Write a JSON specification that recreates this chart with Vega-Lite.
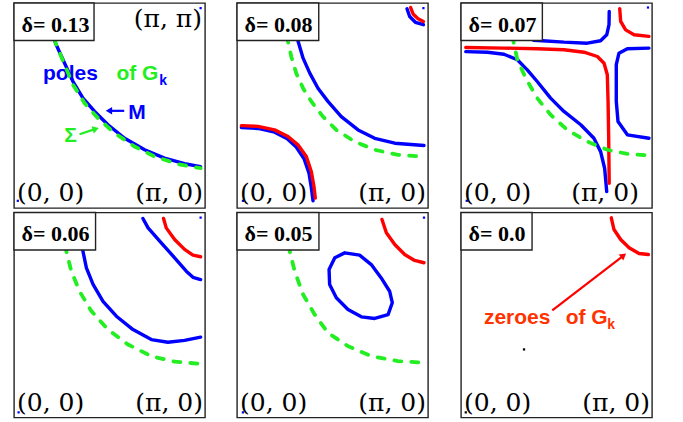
{
  "$schema": "https://vega.github.io/schema/vega-lite/v6.json",
  "background": "white",
  "padding": {"left": 12, "top": 1, "right": 0, "bottom": 0},
  "config": {"view": {"stroke": "#222222", "strokeWidth": 1.4}},
  "datasets": {"fs": [
    {"panel":1,"kind":"line","curve":"1b","series":"pole","i":0,"kx":0.208,"ky":0.83},
    {"panel":1,"kind":"line","curve":"1b","series":"pole","i":1,"kx":0.221,"ky":0.796},
    {"panel":1,"kind":"line","curve":"1b","series":"pole","i":2,"kx":0.265,"ky":0.706},
    {"panel":1,"kind":"line","curve":"1b","series":"pole","i":3,"kx":0.309,"ky":0.617},
    {"panel":1,"kind":"line","curve":"1b","series":"pole","i":4,"kx":0.361,"ky":0.536},
    {"panel":1,"kind":"line","curve":"1b","series":"pole","i":5,"kx":0.422,"ky":0.471},
    {"panel":1,"kind":"line","curve":"1b","series":"pole","i":6,"kx":0.492,"ky":0.406},
    {"panel":1,"kind":"line","curve":"1b","series":"pole","i":7,"kx":0.579,"ky":0.340},
    {"panel":1,"kind":"line","curve":"1b","series":"pole","i":8,"kx":0.684,"ky":0.284},
    {"panel":1,"kind":"line","curve":"1b","series":"pole","i":9,"kx":0.788,"ky":0.243},
    {"panel":1,"kind":"line","curve":"1b","series":"pole","i":10,"kx":0.893,"ky":0.216},
    {"panel":1,"kind":"line","curve":"1b","series":"pole","i":11,"kx":0.977,"ky":0.202},

    {"panel":1,"kind":"line","curve":"1g","series":"sigma","i":0,"kx":0.212,"ky":0.83},
    {"panel":1,"kind":"line","curve":"1g","series":"sigma","i":1,"kx":0.218,"ky":0.804},
    {"panel":1,"kind":"line","curve":"1g","series":"sigma","i":2,"kx":0.265,"ky":0.699},
    {"panel":1,"kind":"line","curve":"1g","series":"sigma","i":3,"kx":0.309,"ky":0.601},
    {"panel":1,"kind":"line","curve":"1g","series":"sigma","i":4,"kx":0.370,"ky":0.511},
    {"panel":1,"kind":"line","curve":"1g","series":"sigma","i":5,"kx":0.440,"ky":0.438},
    {"panel":1,"kind":"line","curve":"1g","series":"sigma","i":6,"kx":0.527,"ky":0.365},
    {"panel":1,"kind":"line","curve":"1g","series":"sigma","i":7,"kx":0.631,"ky":0.300},
    {"panel":1,"kind":"line","curve":"1g","series":"sigma","i":8,"kx":0.736,"ky":0.251},
    {"panel":1,"kind":"line","curve":"1g","series":"sigma","i":9,"kx":0.859,"ky":0.214},
    {"panel":1,"kind":"line","curve":"1g","series":"sigma","i":10,"kx":0.977,"ky":0.194},

    {"panel":2,"kind":"line","curve":"2b1","series":"pole","i":0,"kx":0.890,"ky":0.972},
    {"panel":2,"kind":"line","curve":"2b1","series":"pole","i":1,"kx":0.904,"ky":0.934},
    {"panel":2,"kind":"line","curve":"2b1","series":"pole","i":2,"kx":0.934,"ky":0.906},
    {"panel":2,"kind":"line","curve":"2b1","series":"pole","i":3,"kx":0.976,"ky":0.894},
    {"panel":2,"kind":"line","curve":"2r1","series":"zero","i":0,"kx":0.909,"ky":0.978},
    {"panel":2,"kind":"line","curve":"2r1","series":"zero","i":1,"kx":0.923,"ky":0.945},
    {"panel":2,"kind":"line","curve":"2r1","series":"zero","i":2,"kx":0.948,"ky":0.923},
    {"panel":2,"kind":"line","curve":"2r1","series":"zero","i":3,"kx":0.976,"ky":0.910},

    {"panel":2,"kind":"line","curve":"2b2","series":"pole","i":0,"kx":0.310,"ky":0.84},
    {"panel":2,"kind":"line","curve":"2b2","series":"pole","i":1,"kx":0.319,"ky":0.816},
    {"panel":2,"kind":"line","curve":"2b2","series":"pole","i":2,"kx":0.346,"ky":0.731},
    {"panel":2,"kind":"line","curve":"2b2","series":"pole","i":3,"kx":0.381,"ky":0.658},
    {"panel":2,"kind":"line","curve":"2b2","series":"pole","i":4,"kx":0.424,"ky":0.584},
    {"panel":2,"kind":"line","curve":"2b2","series":"pole","i":5,"kx":0.476,"ky":0.520},
    {"panel":2,"kind":"line","curve":"2b2","series":"pole","i":6,"kx":0.546,"ky":0.446},
    {"panel":2,"kind":"line","curve":"2b2","series":"pole","i":7,"kx":0.634,"ky":0.381},
    {"panel":2,"kind":"line","curve":"2b2","series":"pole","i":8,"kx":0.721,"ky":0.340},
    {"panel":2,"kind":"line","curve":"2b2","series":"pole","i":9,"kx":0.826,"ky":0.316},
    {"panel":2,"kind":"line","curve":"2b2","series":"pole","i":10,"kx":0.979,"ky":0.305},

    {"panel":2,"kind":"line","curve":"2g","series":"sigma","i":0,"kx":0.262,"ky":0.84},
    {"panel":2,"kind":"line","curve":"2g","series":"sigma","i":1,"kx":0.267,"ky":0.812},
    {"panel":2,"kind":"line","curve":"2g","series":"sigma","i":2,"kx":0.284,"ky":0.739},
    {"panel":2,"kind":"line","curve":"2g","series":"sigma","i":3,"kx":0.310,"ky":0.658},
    {"panel":2,"kind":"line","curve":"2g","series":"sigma","i":4,"kx":0.346,"ky":0.584},
    {"panel":2,"kind":"line","curve":"2g","series":"sigma","i":5,"kx":0.389,"ky":0.520},
    {"panel":2,"kind":"line","curve":"2g","series":"sigma","i":6,"kx":0.450,"ky":0.446},
    {"panel":2,"kind":"line","curve":"2g","series":"sigma","i":7,"kx":0.520,"ky":0.381},
    {"panel":2,"kind":"line","curve":"2g","series":"sigma","i":8,"kx":0.616,"ky":0.324},
    {"panel":2,"kind":"line","curve":"2g","series":"sigma","i":9,"kx":0.721,"ky":0.284},
    {"panel":2,"kind":"line","curve":"2g","series":"sigma","i":10,"kx":0.843,"ky":0.259},
    {"panel":2,"kind":"line","curve":"2g","series":"sigma","i":11,"kx":0.979,"ky":0.251},

    {"panel":2,"kind":"line","curve":"2b3","series":"pole","i":0,"kx":0.023,"ky":0.393},
    {"panel":2,"kind":"line","curve":"2b3","series":"pole","i":1,"kx":0.110,"ky":0.388},
    {"panel":2,"kind":"line","curve":"2b3","series":"pole","i":2,"kx":0.197,"ky":0.370},
    {"panel":2,"kind":"line","curve":"2b3","series":"pole","i":3,"kx":0.263,"ky":0.338},
    {"panel":2,"kind":"line","curve":"2b3","series":"pole","i":4,"kx":0.310,"ky":0.297},
    {"panel":2,"kind":"line","curve":"2b3","series":"pole","i":5,"kx":0.351,"ky":0.240},
    {"panel":2,"kind":"line","curve":"2b3","series":"pole","i":6,"kx":0.377,"ky":0.170},
    {"panel":2,"kind":"line","curve":"2b3","series":"pole","i":7,"kx":0.389,"ky":0.100},
    {"panel":2,"kind":"line","curve":"2b3","series":"pole","i":8,"kx":0.398,"ky":0.035},
    {"panel":2,"kind":"line","curve":"2r2","series":"zero","i":0,"kx":0.023,"ky":0.402},
    {"panel":2,"kind":"line","curve":"2r2","series":"zero","i":1,"kx":0.110,"ky":0.398},
    {"panel":2,"kind":"line","curve":"2r2","series":"zero","i":2,"kx":0.197,"ky":0.381},
    {"panel":2,"kind":"line","curve":"2r2","series":"zero","i":3,"kx":0.267,"ky":0.349},
    {"panel":2,"kind":"line","curve":"2r2","series":"zero","i":4,"kx":0.319,"ky":0.308},
    {"panel":2,"kind":"line","curve":"2r2","series":"zero","i":5,"kx":0.363,"ky":0.251},
    {"panel":2,"kind":"line","curve":"2r2","series":"zero","i":6,"kx":0.389,"ky":0.178},
    {"panel":2,"kind":"line","curve":"2r2","series":"zero","i":7,"kx":0.403,"ky":0.105},
    {"panel":2,"kind":"line","curve":"2r2","series":"zero","i":8,"kx":0.410,"ky":0.048},

    {"panel":3,"kind":"line","curve":"3b1","series":"pole","i":0,"kx":0.025,"ky":0.763},
    {"panel":3,"kind":"line","curve":"3b1","series":"pole","i":1,"kx":0.138,"ky":0.760},
    {"panel":3,"kind":"line","curve":"3b1","series":"pole","i":2,"kx":0.225,"ky":0.750},
    {"panel":3,"kind":"line","curve":"3b1","series":"pole","i":3,"kx":0.295,"ky":0.723},
    {"panel":3,"kind":"line","curve":"3b1","series":"pole","i":4,"kx":0.347,"ky":0.674},
    {"panel":3,"kind":"line","curve":"3b1","series":"pole","i":5,"kx":0.399,"ky":0.617},
    {"panel":3,"kind":"line","curve":"3b1","series":"pole","i":6,"kx":0.469,"ky":0.536},
    {"panel":3,"kind":"line","curve":"3b1","series":"pole","i":7,"kx":0.539,"ky":0.471},
    {"panel":3,"kind":"line","curve":"3b1","series":"pole","i":8,"kx":0.627,"ky":0.406},
    {"panel":3,"kind":"line","curve":"3b1","series":"pole","i":9,"kx":0.696,"ky":0.340},
    {"panel":3,"kind":"line","curve":"3b1","series":"pole","i":10,"kx":0.731,"ky":0.275},
    {"panel":3,"kind":"line","curve":"3b1","series":"pole","i":11,"kx":0.752,"ky":0.194},
    {"panel":3,"kind":"line","curve":"3b1","series":"pole","i":12,"kx":0.763,"ky":0.080},

    {"panel":3,"kind":"line","curve":"3b2","series":"pole","i":0,"kx":0.380,"ky":0.818},
    {"panel":3,"kind":"line","curve":"3b2","series":"pole","i":1,"kx":0.426,"ky":0.816},
    {"panel":3,"kind":"line","curve":"3b2","series":"pole","i":2,"kx":0.539,"ky":0.809},
    {"panel":3,"kind":"line","curve":"3b2","series":"pole","i":3,"kx":0.661,"ky":0.804},
    {"panel":3,"kind":"line","curve":"3b2","series":"pole","i":4,"kx":0.731,"ky":0.816},
    {"panel":3,"kind":"line","curve":"3b2","series":"pole","i":5,"kx":0.763,"ky":0.845},
    {"panel":3,"kind":"line","curve":"3b2","series":"pole","i":6,"kx":0.775,"ky":0.894},
    {"panel":3,"kind":"line","curve":"3b2","series":"pole","i":7,"kx":0.776,"ky":0.959},

    {"panel":3,"kind":"line","curve":"3b3","series":"pole","i":0,"kx":0.984,"ky":0.780},
    {"panel":3,"kind":"line","curve":"3b3","series":"pole","i":1,"kx":0.871,"ky":0.777},
    {"panel":3,"kind":"line","curve":"3b3","series":"pole","i":2,"kx":0.827,"ky":0.755},
    {"panel":3,"kind":"line","curve":"3b3","series":"pole","i":3,"kx":0.813,"ky":0.699},
    {"panel":3,"kind":"line","curve":"3b3","series":"pole","i":4,"kx":0.813,"ky":0.520},
    {"panel":3,"kind":"line","curve":"3b3","series":"pole","i":5,"kx":0.822,"ky":0.422},
    {"panel":3,"kind":"line","curve":"3b3","series":"pole","i":6,"kx":0.871,"ky":0.357},
    {"panel":3,"kind":"line","curve":"3b3","series":"pole","i":7,"kx":0.984,"ky":0.340},

    {"panel":3,"kind":"line","curve":"3r1","series":"zero","i":0,"kx":0.025,"ky":0.783},
    {"panel":3,"kind":"line","curve":"3r1","series":"zero","i":1,"kx":0.225,"ky":0.780},
    {"panel":3,"kind":"line","curve":"3r1","series":"zero","i":2,"kx":0.399,"ky":0.777},
    {"panel":3,"kind":"line","curve":"3r1","series":"zero","i":3,"kx":0.539,"ky":0.772},
    {"panel":3,"kind":"line","curve":"3r1","series":"zero","i":4,"kx":0.644,"ky":0.760},
    {"panel":3,"kind":"line","curve":"3r1","series":"zero","i":5,"kx":0.714,"ky":0.739},
    {"panel":3,"kind":"line","curve":"3r1","series":"zero","i":6,"kx":0.749,"ky":0.706},
    {"panel":3,"kind":"line","curve":"3r1","series":"zero","i":7,"kx":0.766,"ky":0.650},
    {"panel":3,"kind":"line","curve":"3r1","series":"zero","i":8,"kx":0.770,"ky":0.520},
    {"panel":3,"kind":"line","curve":"3r1","series":"zero","i":9,"kx":0.773,"ky":0.357},
    {"panel":3,"kind":"line","curve":"3r1","series":"zero","i":10,"kx":0.776,"ky":0.121},

    {"panel":3,"kind":"line","curve":"3r2","series":"zero","i":0,"kx":0.831,"ky":0.972},
    {"panel":3,"kind":"line","curve":"3r2","series":"zero","i":1,"kx":0.836,"ky":0.910},
    {"panel":3,"kind":"line","curve":"3r2","series":"zero","i":2,"kx":0.862,"ky":0.869},
    {"panel":3,"kind":"line","curve":"3r2","series":"zero","i":3,"kx":0.906,"ky":0.845},
    {"panel":3,"kind":"line","curve":"3r2","series":"zero","i":4,"kx":0.984,"ky":0.837},

    {"panel":3,"kind":"line","curve":"3g","series":"sigma","i":0,"kx":0.270,"ky":0.84},
    {"panel":3,"kind":"line","curve":"3g","series":"sigma","i":1,"kx":0.274,"ky":0.816},
    {"panel":3,"kind":"line","curve":"3g","series":"sigma","i":2,"kx":0.295,"ky":0.723},
    {"panel":3,"kind":"line","curve":"3g","series":"sigma","i":3,"kx":0.339,"ky":0.633},
    {"panel":3,"kind":"line","curve":"3g","series":"sigma","i":4,"kx":0.399,"ky":0.536},
    {"panel":3,"kind":"line","curve":"3g","series":"sigma","i":5,"kx":0.469,"ky":0.455},
    {"panel":3,"kind":"line","curve":"3g","series":"sigma","i":6,"kx":0.556,"ky":0.381},
    {"panel":3,"kind":"line","curve":"3g","series":"sigma","i":7,"kx":0.661,"ky":0.324},
    {"panel":3,"kind":"line","curve":"3g","series":"sigma","i":8,"kx":0.766,"ky":0.284},
    {"panel":3,"kind":"line","curve":"3g","series":"sigma","i":9,"kx":0.871,"ky":0.264},
    {"panel":3,"kind":"line","curve":"3g","series":"sigma","i":10,"kx":0.984,"ky":0.256},

    {"panel":4,"kind":"line","curve":"4b1","series":"pole","i":0,"kx":0.355,"ky":0.84},
    {"panel":4,"kind":"line","curve":"4b1","series":"pole","i":1,"kx":0.361,"ky":0.811},
    {"panel":4,"kind":"line","curve":"4b1","series":"pole","i":2,"kx":0.379,"ky":0.730},
    {"panel":4,"kind":"line","curve":"4b1","series":"pole","i":3,"kx":0.414,"ky":0.649},
    {"panel":4,"kind":"line","curve":"4b1","series":"pole","i":4,"kx":0.466,"ky":0.567},
    {"panel":4,"kind":"line","curve":"4b1","series":"pole","i":5,"kx":0.536,"ky":0.494},
    {"panel":4,"kind":"line","curve":"4b1","series":"pole","i":6,"kx":0.623,"ky":0.429},
    {"panel":4,"kind":"line","curve":"4b1","series":"pole","i":7,"kx":0.719,"ky":0.380},
    {"panel":4,"kind":"line","curve":"4b1","series":"pole","i":8,"kx":0.806,"ky":0.367},
    {"panel":4,"kind":"line","curve":"4b1","series":"pole","i":9,"kx":0.893,"ky":0.376},
    {"panel":4,"kind":"line","curve":"4b1","series":"pole","i":10,"kx":0.977,"ky":0.392},

    {"panel":4,"kind":"line","curve":"4b2","series":"pole","i":0,"kx":0.675,"ky":0.971},
    {"panel":4,"kind":"line","curve":"4b2","series":"pole","i":1,"kx":0.702,"ky":0.925},
    {"panel":4,"kind":"line","curve":"4b2","series":"pole","i":2,"kx":0.771,"ky":0.852},
    {"panel":4,"kind":"line","curve":"4b2","series":"pole","i":3,"kx":0.841,"ky":0.779},
    {"panel":4,"kind":"line","curve":"4b2","series":"pole","i":4,"kx":0.902,"ky":0.714},
    {"panel":4,"kind":"line","curve":"4b2","series":"pole","i":5,"kx":0.937,"ky":0.684},
    {"panel":4,"kind":"line","curve":"4b2","series":"pole","i":6,"kx":0.977,"ky":0.673},

    {"panel":4,"kind":"line","curve":"4r","series":"zero","i":0,"kx":0.783,"ky":0.971},
    {"panel":4,"kind":"line","curve":"4r","series":"zero","i":1,"kx":0.797,"ky":0.925},
    {"panel":4,"kind":"line","curve":"4r","series":"zero","i":2,"kx":0.841,"ky":0.868},
    {"panel":4,"kind":"line","curve":"4r","series":"zero","i":3,"kx":0.893,"ky":0.820},
    {"panel":4,"kind":"line","curve":"4r","series":"zero","i":4,"kx":0.937,"ky":0.792},
    {"panel":4,"kind":"line","curve":"4r","series":"zero","i":5,"kx":0.977,"ky":0.784},

    {"panel":4,"kind":"line","curve":"4g","series":"sigma","i":0,"kx":0.270,"ky":0.84},
    {"panel":4,"kind":"line","curve":"4g","series":"sigma","i":1,"kx":0.274,"ky":0.811},
    {"panel":4,"kind":"line","curve":"4g","series":"sigma","i":2,"kx":0.300,"ky":0.714},
    {"panel":4,"kind":"line","curve":"4g","series":"sigma","i":3,"kx":0.343,"ky":0.616},
    {"panel":4,"kind":"line","curve":"4g","series":"sigma","i":4,"kx":0.405,"ky":0.519},
    {"panel":4,"kind":"line","curve":"4g","series":"sigma","i":5,"kx":0.492,"ky":0.429},
    {"panel":4,"kind":"line","curve":"4g","series":"sigma","i":6,"kx":0.597,"ky":0.356},
    {"panel":4,"kind":"line","curve":"4g","series":"sigma","i":7,"kx":0.719,"ky":0.299},
    {"panel":4,"kind":"line","curve":"4g","series":"sigma","i":8,"kx":0.841,"ky":0.272},
    {"panel":4,"kind":"line","curve":"4g","series":"sigma","i":9,"kx":0.977,"ky":0.262},

    {"panel":5,"kind":"line","curve":"5b","series":"pole","i":0,"kx":0.564,"ky":0.803},
    {"panel":5,"kind":"line","curve":"5b","series":"pole","i":1,"kx":0.512,"ky":0.779},
    {"panel":5,"kind":"line","curve":"5b","series":"pole","i":2,"kx":0.482,"ky":0.722},
    {"panel":5,"kind":"line","curve":"5b","series":"pole","i":3,"kx":0.485,"ky":0.649},
    {"panel":5,"kind":"line","curve":"5b","series":"pole","i":4,"kx":0.520,"ky":0.584},
    {"panel":5,"kind":"line","curve":"5b","series":"pole","i":5,"kx":0.581,"ky":0.527},
    {"panel":5,"kind":"line","curve":"5b","series":"pole","i":6,"kx":0.651,"ky":0.491},
    {"panel":5,"kind":"line","curve":"5b","series":"pole","i":7,"kx":0.721,"ky":0.483},
    {"panel":5,"kind":"line","curve":"5b","series":"pole","i":8,"kx":0.791,"ky":0.502},
    {"panel":5,"kind":"line","curve":"5b","series":"pole","i":9,"kx":0.813,"ky":0.560},
    {"panel":5,"kind":"line","curve":"5b","series":"pole","i":10,"kx":0.799,"ky":0.616},
    {"panel":5,"kind":"line","curve":"5b","series":"pole","i":11,"kx":0.755,"ky":0.681},
    {"panel":5,"kind":"line","curve":"5b","series":"pole","i":12,"kx":0.703,"ky":0.746},
    {"panel":5,"kind":"line","curve":"5b","series":"pole","i":13,"kx":0.642,"ky":0.792},
    {"panel":5,"kind":"line","curve":"5b","series":"pole","i":14,"kx":0.564,"ky":0.803},

    {"panel":5,"kind":"line","curve":"5r","series":"zero","i":0,"kx":0.759,"ky":0.966},
    {"panel":5,"kind":"line","curve":"5r","series":"zero","i":1,"kx":0.782,"ky":0.901},
    {"panel":5,"kind":"line","curve":"5r","series":"zero","i":2,"kx":0.826,"ky":0.844},
    {"panel":5,"kind":"line","curve":"5r","series":"zero","i":3,"kx":0.878,"ky":0.795},
    {"panel":5,"kind":"line","curve":"5r","series":"zero","i":4,"kx":0.930,"ky":0.766},
    {"panel":5,"kind":"line","curve":"5r","series":"zero","i":5,"kx":0.979,"ky":0.755},

    {"panel":5,"kind":"line","curve":"5g","series":"sigma","i":0,"kx":0.272,"ky":0.84},
    {"panel":5,"kind":"line","curve":"5g","series":"sigma","i":1,"kx":0.276,"ky":0.811},
    {"panel":5,"kind":"line","curve":"5g","series":"sigma","i":2,"kx":0.302,"ky":0.714},
    {"panel":5,"kind":"line","curve":"5g","series":"sigma","i":3,"kx":0.346,"ky":0.600},
    {"panel":5,"kind":"line","curve":"5g","series":"sigma","i":4,"kx":0.407,"ky":0.502},
    {"panel":5,"kind":"line","curve":"5g","series":"sigma","i":5,"kx":0.476,"ky":0.413},
    {"panel":5,"kind":"line","curve":"5g","series":"sigma","i":6,"kx":0.581,"ky":0.348},
    {"panel":5,"kind":"line","curve":"5g","series":"sigma","i":7,"kx":0.703,"ky":0.299},
    {"panel":5,"kind":"line","curve":"5g","series":"sigma","i":8,"kx":0.843,"ky":0.275},
    {"panel":5,"kind":"line","curve":"5g","series":"sigma","i":9,"kx":0.979,"ky":0.267},

    {"panel":6,"kind":"line","curve":"6r","series":"zero","i":0,"kx":0.787,"ky":0.974},
    {"panel":6,"kind":"line","curve":"6r","series":"zero","i":1,"kx":0.801,"ky":0.917},
    {"panel":6,"kind":"line","curve":"6r","series":"zero","i":2,"kx":0.836,"ky":0.868},
    {"panel":6,"kind":"line","curve":"6r","series":"zero","i":3,"kx":0.880,"ky":0.828},
    {"panel":6,"kind":"line","curve":"6r","series":"zero","i":4,"kx":0.932,"ky":0.800},
    {"panel":6,"kind":"line","curve":"6r","series":"zero","i":5,"kx":0.981,"ky":0.795},

    {"panel":1,"kind":"box","text":"δ= 0.13","kx":0,"ky":1,"kx2":0.419,"ky2":0.817},
    {"panel":2,"kind":"box","text":"δ= 0.08","kx":0,"ky":1,"kx2":0.428,"ky2":0.817},
    {"panel":3,"kind":"box","text":"δ= 0.07","kx":0,"ky":1,"kx2":0.426,"ky2":0.817},
    {"panel":4,"kind":"box","text":"δ= 0.06","kx":0,"ky":1,"kx2":0.427,"ky2":0.817},
    {"panel":5,"kind":"box","text":"δ= 0.05","kx":0,"ky":1,"kx2":0.429,"ky2":0.817},
    {"panel":6,"kind":"box","text":"δ= 0.0","kx":0,"ky":1,"kx2":0.372,"ky2":0.817},

    {"panel":1,"kind":"corner","pos":"bl","text":"(0, 0)","kx":0,"ky":0},
    {"panel":1,"kind":"corner","pos":"br","text":"(π, 0)","kx":1,"ky":0},
    {"panel":1,"kind":"corner","pos":"tr","text":"(π, π)","kx":1,"ky":1},
    {"panel":2,"kind":"corner","pos":"bl","text":"(0, 0)","kx":0,"ky":0},
    {"panel":2,"kind":"corner","pos":"br","text":"(π, 0)","kx":1,"ky":0},
    {"panel":3,"kind":"corner","pos":"bl","text":"(0, 0)","kx":0,"ky":0},
    {"panel":3,"kind":"corner","pos":"br","text":"(π, 0)","kx":0.942,"ky":0},
    {"panel":4,"kind":"corner","pos":"bl","text":"(0, 0)","kx":0,"ky":0},
    {"panel":4,"kind":"corner","pos":"br","text":"(π, 0)","kx":1,"ky":0},
    {"panel":5,"kind":"corner","pos":"bl","text":"(0, 0)","kx":0,"ky":0},
    {"panel":5,"kind":"corner","pos":"br","text":"(π, 0)","kx":1,"ky":0},
    {"panel":6,"kind":"corner","pos":"bl","text":"(0, 0)","kx":0,"ky":0},
    {"panel":6,"kind":"corner","pos":"br","text":"(π, 0)","kx":1,"ky":0},

    {"panel":1,"kind":"note","series":"pole","text":"poles","kx":0.152,"ky":0.625},
    {"panel":1,"kind":"note","series":"sigma","text":"of G","kx":0.536,"ky":0.625},
    {"panel":1,"kind":"sub","series":"pole","text":"k","kx":0.761,"ky":0.601},
    {"panel":1,"kind":"note","series":"pole","text":"M","kx":0.598,"ky":0.432},
    {"panel":1,"kind":"note","series":"sigma","text":"Σ","kx":0.263,"ky":0.324},
    {"panel":6,"kind":"note","series":"zeroText","text":"zeroes","kx":0.120,"ky":0.457},
    {"panel":6,"kind":"note","series":"zeroText","text":"of G","kx":0.548,"ky":0.457},
    {"panel":6,"kind":"sub","series":"zeroText","text":"k","kx":0.766,"ky":0.434},

    {"panel":1,"kind":"arrow","id":"m","series":"pole","kx":0.577,"ky":0.474,"kx2":0.497,"ky2":0.474},
    {"panel":1,"kind":"arrow","id":"s","series":"sigma","kx":0.343,"ky":0.360,"kx2":0.428,"ky2":0.386},
    {"panel":6,"kind":"arrow","id":"z","series":"zero","kx":0.478,"ky":0.522,"kx2":0.851,"ky2":0.790},

    {"panel":1,"kind":"dot","series":"pole","kx":0.977,"ky":0.975},
    {"panel":1,"kind":"dot","series":"pole","kx":0.020,"ky":0.035},
    {"panel":2,"kind":"dot","series":"pole","kx":0.976,"ky":0.975},
    {"panel":2,"kind":"dot","series":"pole","kx":0.031,"ky":0.035},
    {"panel":3,"kind":"dot","series":"pole","kx":0.979,"ky":0.978},
    {"panel":3,"kind":"dot","series":"pole","kx":0.030,"ky":0.035},
    {"panel":4,"kind":"dot","series":"pole","kx":0.977,"ky":0.975},
    {"panel":4,"kind":"dot","series":"pole","kx":0.024,"ky":0.025},
    {"panel":5,"kind":"dot","series":"pole","kx":0.979,"ky":0.975},
    {"panel":5,"kind":"dot","series":"pole","kx":0.031,"ky":0.025},
    {"panel":6,"kind":"dot","series":"ink","kx":0.025,"ky":0.025},
    {"panel":6,"kind":"dot","series":"ink","kx":0.330,"ky":0.332}
  ]},
  "spacing": 1.5,
  "vconcat": [
    {"spacing": 26, "hconcat": [
      {"width": 191, "height": 205, "data": {"name": "fs"}, "transform": [{"filter": "datum.panel === 1"}],
       "encoding": {
         "x": {"field": "kx", "type": "quantitative", "scale": {"domain": [0, 1], "nice": false, "zero": false}, "axis": null},
         "y": {"field": "ky", "type": "quantitative", "scale": {"domain": [0, 1], "nice": false, "zero": false}, "axis": null},
         "color": {"field": "series", "type": "nominal", "legend": null, "scale": {"domain": ["pole", "zero", "sigma", "zeroText", "ink"], "range": ["#0000ff", "#ff0000", "#22ee22", "#ff3300", "#000000"]}}},
       "layer": [
         {"transform": [{"filter": "datum.kind === 'note'"}], "mark": {"type": "text", "align": "left", "baseline": "alphabetic", "font": "Liberation Sans", "fontWeight": "bold", "fontSize": 21}, "encoding": {"text": {"field": "text"}}},
         {"transform": [{"filter": "datum.kind === 'sub'"}], "mark": {"type": "text", "align": "left", "baseline": "alphabetic", "font": "Liberation Sans", "fontWeight": "bold", "fontSize": 14}, "encoding": {"text": {"field": "text"}}},
         {"transform": [{"filter": "datum.kind === 'line' && datum.series === 'pole'"}], "mark": {"type": "line", "strokeWidth": 3.4, "strokeCap": "round", "strokeJoin": "round"}, "encoding": {"detail": {"field": "curve"}, "order": {"field": "i", "type": "quantitative"}}},
         {"transform": [{"filter": "datum.kind === 'line' && datum.series === 'sigma'"}], "mark": {"type": "line", "strokeWidth": 3.8, "strokeCap": "round", "strokeDash": [7, 10]}, "encoding": {"detail": {"field": "curve"}, "order": {"field": "i", "type": "quantitative"}}},
         {"transform": [{"filter": "datum.kind === 'arrow'"}], "mark": {"type": "rule", "strokeWidth": 2.2}, "encoding": {"x2": {"field": "kx2"}, "y2": {"field": "ky2"}}},
         {"transform": [{"filter": "datum.kind === 'arrow' && datum.id === 'm'"}], "mark": {"type": "point", "shape": "triangle-left", "filled": true, "opacity": 1, "size": 55}, "encoding": {"x": {"field": "kx2", "type": "quantitative"}, "y": {"field": "ky2", "type": "quantitative"}}},
         {"transform": [{"filter": "datum.kind === 'arrow' && datum.id === 's'"}], "mark": {"type": "point", "shape": "triangle-right", "filled": true, "opacity": 1, "size": 55, "angle": 342}, "encoding": {"x": {"field": "kx2", "type": "quantitative"}, "y": {"field": "ky2", "type": "quantitative"}}},
         {"transform": [{"filter": "datum.kind === 'dot'"}], "mark": {"type": "square", "size": 5, "opacity": 1}},
         {"transform": [{"filter": "datum.kind === 'box'"}], "mark": {"type": "rect", "fill": "#ffffff", "stroke": "#222222", "strokeWidth": 1.4}, "encoding": {"x2": {"field": "kx2"}, "y2": {"field": "ky2"}, "color": {"value": "#ffffff"}}},
         {"transform": [{"filter": "datum.kind === 'box'"}], "mark": {"type": "text", "align": "left", "baseline": "alphabetic", "dx": 7.5, "dy": 28.5, "font": "Liberation Serif", "fontWeight": "bold", "fontSize": 22}, "encoding": {"text": {"field": "text"}, "color": {"value": "#000000"}}},
         {"transform": [{"filter": "datum.kind === 'corner' && datum.pos === 'bl'"}], "mark": {"type": "text", "align": "left", "baseline": "alphabetic", "dx": 3, "dy": -7, "font": "DejaVu Serif", "fontSize": 25}, "encoding": {"text": {"field": "text"}, "color": {"value": "#000000"}}},
         {"transform": [{"filter": "datum.kind === 'corner' && datum.pos === 'br'"}], "mark": {"type": "text", "align": "right", "baseline": "alphabetic", "dx": -2, "dy": -7, "font": "DejaVu Serif", "fontSize": 25}, "encoding": {"text": {"field": "text"}, "color": {"value": "#000000"}}},
         {"transform": [{"filter": "datum.kind === 'corner' && datum.pos === 'tr'"}], "mark": {"type": "text", "align": "right", "baseline": "alphabetic", "dx": -3, "dy": 24, "font": "DejaVu Serif", "fontSize": 25}, "encoding": {"text": {"field": "text"}, "color": {"value": "#000000"}}}
       ]},
      {"width": 191, "height": 205, "data": {"name": "fs"}, "transform": [{"filter": "datum.panel === 2"}],
       "encoding": {
         "x": {"field": "kx", "type": "quantitative", "scale": {"domain": [0, 1], "nice": false, "zero": false}, "axis": null},
         "y": {"field": "ky", "type": "quantitative", "scale": {"domain": [0, 1], "nice": false, "zero": false}, "axis": null},
         "color": {"field": "series", "type": "nominal", "legend": null, "scale": {"domain": ["pole", "zero", "sigma", "zeroText", "ink"], "range": ["#0000ff", "#ff0000", "#22ee22", "#ff3300", "#000000"]}}},
       "layer": [
         {"transform": [{"filter": "datum.kind === 'line' && datum.series === 'pole'"}], "mark": {"type": "line", "strokeWidth": 3.4, "strokeCap": "round", "strokeJoin": "round"}, "encoding": {"detail": {"field": "curve"}, "order": {"field": "i", "type": "quantitative"}}},
         {"transform": [{"filter": "datum.kind === 'line' && datum.series === 'zero'"}], "mark": {"type": "line", "strokeWidth": 3.4, "strokeCap": "round", "strokeJoin": "round"}, "encoding": {"detail": {"field": "curve"}, "order": {"field": "i", "type": "quantitative"}}},
         {"transform": [{"filter": "datum.kind === 'line' && datum.series === 'sigma'"}], "mark": {"type": "line", "strokeWidth": 3.8, "strokeCap": "round", "strokeDash": [7, 10]}, "encoding": {"detail": {"field": "curve"}, "order": {"field": "i", "type": "quantitative"}}},
         {"transform": [{"filter": "datum.kind === 'dot'"}], "mark": {"type": "square", "size": 5, "opacity": 1}},
         {"transform": [{"filter": "datum.kind === 'box'"}], "mark": {"type": "rect", "fill": "#ffffff", "stroke": "#222222", "strokeWidth": 1.4}, "encoding": {"x2": {"field": "kx2"}, "y2": {"field": "ky2"}, "color": {"value": "#ffffff"}}},
         {"transform": [{"filter": "datum.kind === 'box'"}], "mark": {"type": "text", "align": "left", "baseline": "alphabetic", "dx": 7.5, "dy": 28.5, "font": "Liberation Serif", "fontWeight": "bold", "fontSize": 22}, "encoding": {"text": {"field": "text"}, "color": {"value": "#000000"}}},
         {"transform": [{"filter": "datum.kind === 'corner' && datum.pos === 'bl'"}], "mark": {"type": "text", "align": "left", "baseline": "alphabetic", "dx": 3, "dy": -7, "font": "DejaVu Serif", "fontSize": 25}, "encoding": {"text": {"field": "text"}, "color": {"value": "#000000"}}},
         {"transform": [{"filter": "datum.kind === 'corner' && datum.pos === 'br'"}], "mark": {"type": "text", "align": "right", "baseline": "alphabetic", "dx": -2, "dy": -7, "font": "DejaVu Serif", "fontSize": 25}, "encoding": {"text": {"field": "text"}, "color": {"value": "#000000"}}}
       ]},
      {"width": 191, "height": 205, "data": {"name": "fs"}, "transform": [{"filter": "datum.panel === 3"}],
       "encoding": {
         "x": {"field": "kx", "type": "quantitative", "scale": {"domain": [0, 1], "nice": false, "zero": false}, "axis": null},
         "y": {"field": "ky", "type": "quantitative", "scale": {"domain": [0, 1], "nice": false, "zero": false}, "axis": null},
         "color": {"field": "series", "type": "nominal", "legend": null, "scale": {"domain": ["pole", "zero", "sigma", "zeroText", "ink"], "range": ["#0000ff", "#ff0000", "#22ee22", "#ff3300", "#000000"]}}},
       "layer": [
         {"transform": [{"filter": "datum.kind === 'line' && datum.series === 'pole'"}], "mark": {"type": "line", "strokeWidth": 3.4, "strokeCap": "round", "strokeJoin": "round"}, "encoding": {"detail": {"field": "curve"}, "order": {"field": "i", "type": "quantitative"}}},
         {"transform": [{"filter": "datum.kind === 'line' && datum.series === 'zero'"}], "mark": {"type": "line", "strokeWidth": 3.4, "strokeCap": "round", "strokeJoin": "round"}, "encoding": {"detail": {"field": "curve"}, "order": {"field": "i", "type": "quantitative"}}},
         {"transform": [{"filter": "datum.kind === 'line' && datum.series === 'sigma'"}], "mark": {"type": "line", "strokeWidth": 3.8, "strokeCap": "round", "strokeDash": [7, 10]}, "encoding": {"detail": {"field": "curve"}, "order": {"field": "i", "type": "quantitative"}}},
         {"transform": [{"filter": "datum.kind === 'dot'"}], "mark": {"type": "square", "size": 5, "opacity": 1}},
         {"transform": [{"filter": "datum.kind === 'box'"}], "mark": {"type": "rect", "fill": "#ffffff", "stroke": "#222222", "strokeWidth": 1.4}, "encoding": {"x2": {"field": "kx2"}, "y2": {"field": "ky2"}, "color": {"value": "#ffffff"}}},
         {"transform": [{"filter": "datum.kind === 'box'"}], "mark": {"type": "text", "align": "left", "baseline": "alphabetic", "dx": 7.5, "dy": 28.5, "font": "Liberation Serif", "fontWeight": "bold", "fontSize": 22}, "encoding": {"text": {"field": "text"}, "color": {"value": "#000000"}}},
         {"transform": [{"filter": "datum.kind === 'corner' && datum.pos === 'bl'"}], "mark": {"type": "text", "align": "left", "baseline": "alphabetic", "dx": 3, "dy": -7, "font": "DejaVu Serif", "fontSize": 25}, "encoding": {"text": {"field": "text"}, "color": {"value": "#000000"}}},
         {"transform": [{"filter": "datum.kind === 'corner' && datum.pos === 'br'"}], "mark": {"type": "text", "align": "right", "baseline": "alphabetic", "dx": -2, "dy": -7, "font": "DejaVu Serif", "fontSize": 25}, "encoding": {"text": {"field": "text"}, "color": {"value": "#000000"}}}
       ]}
    ]},
    {"spacing": 26, "hconcat": [
      {"width": 191, "height": 205, "data": {"name": "fs"}, "transform": [{"filter": "datum.panel === 4"}],
       "encoding": {
         "x": {"field": "kx", "type": "quantitative", "scale": {"domain": [0, 1], "nice": false, "zero": false}, "axis": null},
         "y": {"field": "ky", "type": "quantitative", "scale": {"domain": [0, 1], "nice": false, "zero": false}, "axis": null},
         "color": {"field": "series", "type": "nominal", "legend": null, "scale": {"domain": ["pole", "zero", "sigma", "zeroText", "ink"], "range": ["#0000ff", "#ff0000", "#22ee22", "#ff3300", "#000000"]}}},
       "layer": [
         {"transform": [{"filter": "datum.kind === 'line' && datum.series === 'pole'"}], "mark": {"type": "line", "strokeWidth": 3.4, "strokeCap": "round", "strokeJoin": "round"}, "encoding": {"detail": {"field": "curve"}, "order": {"field": "i", "type": "quantitative"}}},
         {"transform": [{"filter": "datum.kind === 'line' && datum.series === 'zero'"}], "mark": {"type": "line", "strokeWidth": 3.4, "strokeCap": "round", "strokeJoin": "round"}, "encoding": {"detail": {"field": "curve"}, "order": {"field": "i", "type": "quantitative"}}},
         {"transform": [{"filter": "datum.kind === 'line' && datum.series === 'sigma'"}], "mark": {"type": "line", "strokeWidth": 3.8, "strokeCap": "round", "strokeDash": [7, 10]}, "encoding": {"detail": {"field": "curve"}, "order": {"field": "i", "type": "quantitative"}}},
         {"transform": [{"filter": "datum.kind === 'dot'"}], "mark": {"type": "square", "size": 5, "opacity": 1}},
         {"transform": [{"filter": "datum.kind === 'box'"}], "mark": {"type": "rect", "fill": "#ffffff", "stroke": "#222222", "strokeWidth": 1.4}, "encoding": {"x2": {"field": "kx2"}, "y2": {"field": "ky2"}, "color": {"value": "#ffffff"}}},
         {"transform": [{"filter": "datum.kind === 'box'"}], "mark": {"type": "text", "align": "left", "baseline": "alphabetic", "dx": 7.5, "dy": 28.5, "font": "Liberation Serif", "fontWeight": "bold", "fontSize": 22}, "encoding": {"text": {"field": "text"}, "color": {"value": "#000000"}}},
         {"transform": [{"filter": "datum.kind === 'corner' && datum.pos === 'bl'"}], "mark": {"type": "text", "align": "left", "baseline": "alphabetic", "dx": 3, "dy": -7, "font": "DejaVu Serif", "fontSize": 25}, "encoding": {"text": {"field": "text"}, "color": {"value": "#000000"}}},
         {"transform": [{"filter": "datum.kind === 'corner' && datum.pos === 'br'"}], "mark": {"type": "text", "align": "right", "baseline": "alphabetic", "dx": -2, "dy": -7, "font": "DejaVu Serif", "fontSize": 25}, "encoding": {"text": {"field": "text"}, "color": {"value": "#000000"}}}
       ]},
      {"width": 191, "height": 205, "data": {"name": "fs"}, "transform": [{"filter": "datum.panel === 5"}],
       "encoding": {
         "x": {"field": "kx", "type": "quantitative", "scale": {"domain": [0, 1], "nice": false, "zero": false}, "axis": null},
         "y": {"field": "ky", "type": "quantitative", "scale": {"domain": [0, 1], "nice": false, "zero": false}, "axis": null},
         "color": {"field": "series", "type": "nominal", "legend": null, "scale": {"domain": ["pole", "zero", "sigma", "zeroText", "ink"], "range": ["#0000ff", "#ff0000", "#22ee22", "#ff3300", "#000000"]}}},
       "layer": [
         {"transform": [{"filter": "datum.kind === 'line' && datum.series === 'pole'"}], "mark": {"type": "line", "strokeWidth": 3.4, "strokeCap": "round", "strokeJoin": "round"}, "encoding": {"detail": {"field": "curve"}, "order": {"field": "i", "type": "quantitative"}}},
         {"transform": [{"filter": "datum.kind === 'line' && datum.series === 'zero'"}], "mark": {"type": "line", "strokeWidth": 3.4, "strokeCap": "round", "strokeJoin": "round"}, "encoding": {"detail": {"field": "curve"}, "order": {"field": "i", "type": "quantitative"}}},
         {"transform": [{"filter": "datum.kind === 'line' && datum.series === 'sigma'"}], "mark": {"type": "line", "strokeWidth": 3.8, "strokeCap": "round", "strokeDash": [7, 10]}, "encoding": {"detail": {"field": "curve"}, "order": {"field": "i", "type": "quantitative"}}},
         {"transform": [{"filter": "datum.kind === 'dot'"}], "mark": {"type": "square", "size": 5, "opacity": 1}},
         {"transform": [{"filter": "datum.kind === 'box'"}], "mark": {"type": "rect", "fill": "#ffffff", "stroke": "#222222", "strokeWidth": 1.4}, "encoding": {"x2": {"field": "kx2"}, "y2": {"field": "ky2"}, "color": {"value": "#ffffff"}}},
         {"transform": [{"filter": "datum.kind === 'box'"}], "mark": {"type": "text", "align": "left", "baseline": "alphabetic", "dx": 7.5, "dy": 28.5, "font": "Liberation Serif", "fontWeight": "bold", "fontSize": 22}, "encoding": {"text": {"field": "text"}, "color": {"value": "#000000"}}},
         {"transform": [{"filter": "datum.kind === 'corner' && datum.pos === 'bl'"}], "mark": {"type": "text", "align": "left", "baseline": "alphabetic", "dx": 3, "dy": -7, "font": "DejaVu Serif", "fontSize": 25}, "encoding": {"text": {"field": "text"}, "color": {"value": "#000000"}}},
         {"transform": [{"filter": "datum.kind === 'corner' && datum.pos === 'br'"}], "mark": {"type": "text", "align": "right", "baseline": "alphabetic", "dx": -2, "dy": -7, "font": "DejaVu Serif", "fontSize": 25}, "encoding": {"text": {"field": "text"}, "color": {"value": "#000000"}}}
       ]},
      {"width": 191, "height": 205, "data": {"name": "fs"}, "transform": [{"filter": "datum.panel === 6"}],
       "encoding": {
         "x": {"field": "kx", "type": "quantitative", "scale": {"domain": [0, 1], "nice": false, "zero": false}, "axis": null},
         "y": {"field": "ky", "type": "quantitative", "scale": {"domain": [0, 1], "nice": false, "zero": false}, "axis": null},
         "color": {"field": "series", "type": "nominal", "legend": null, "scale": {"domain": ["pole", "zero", "sigma", "zeroText", "ink"], "range": ["#0000ff", "#ff0000", "#22ee22", "#ff3300", "#000000"]}}},
       "layer": [
         {"transform": [{"filter": "datum.kind === 'note'"}], "mark": {"type": "text", "align": "left", "baseline": "alphabetic", "font": "Liberation Sans", "fontWeight": "bold", "fontSize": 21}, "encoding": {"text": {"field": "text"}}},
         {"transform": [{"filter": "datum.kind === 'sub'"}], "mark": {"type": "text", "align": "left", "baseline": "alphabetic", "font": "Liberation Sans", "fontWeight": "bold", "fontSize": 14}, "encoding": {"text": {"field": "text"}}},
         {"transform": [{"filter": "datum.kind === 'line' && datum.series === 'zero'"}], "mark": {"type": "line", "strokeWidth": 3.4, "strokeCap": "round", "strokeJoin": "round"}, "encoding": {"detail": {"field": "curve"}, "order": {"field": "i", "type": "quantitative"}}},
         {"transform": [{"filter": "datum.kind === 'arrow'"}], "mark": {"type": "rule", "strokeWidth": 2.2}, "encoding": {"x2": {"field": "kx2"}, "y2": {"field": "ky2"}}},
         {"transform": [{"filter": "datum.kind === 'arrow' && datum.id === 'z'"}], "mark": {"type": "point", "shape": "triangle-right", "filled": true, "opacity": 1, "size": 55, "angle": 322}, "encoding": {"x": {"field": "kx2", "type": "quantitative"}, "y": {"field": "ky2", "type": "quantitative"}}},
         {"transform": [{"filter": "datum.kind === 'dot'"}], "mark": {"type": "square", "size": 5, "opacity": 1}},
         {"transform": [{"filter": "datum.kind === 'box'"}], "mark": {"type": "rect", "fill": "#ffffff", "stroke": "#222222", "strokeWidth": 1.4}, "encoding": {"x2": {"field": "kx2"}, "y2": {"field": "ky2"}, "color": {"value": "#ffffff"}}},
         {"transform": [{"filter": "datum.kind === 'box'"}], "mark": {"type": "text", "align": "left", "baseline": "alphabetic", "dx": 7.5, "dy": 28.5, "font": "Liberation Serif", "fontWeight": "bold", "fontSize": 22}, "encoding": {"text": {"field": "text"}, "color": {"value": "#000000"}}},
         {"transform": [{"filter": "datum.kind === 'corner' && datum.pos === 'bl'"}], "mark": {"type": "text", "align": "left", "baseline": "alphabetic", "dx": 3, "dy": -7, "font": "DejaVu Serif", "fontSize": 25}, "encoding": {"text": {"field": "text"}, "color": {"value": "#000000"}}},
         {"transform": [{"filter": "datum.kind === 'corner' && datum.pos === 'br'"}], "mark": {"type": "text", "align": "right", "baseline": "alphabetic", "dx": -2, "dy": -7, "font": "DejaVu Serif", "fontSize": 25}, "encoding": {"text": {"field": "text"}, "color": {"value": "#000000"}}}
       ]}
    ]}
  ]
}
